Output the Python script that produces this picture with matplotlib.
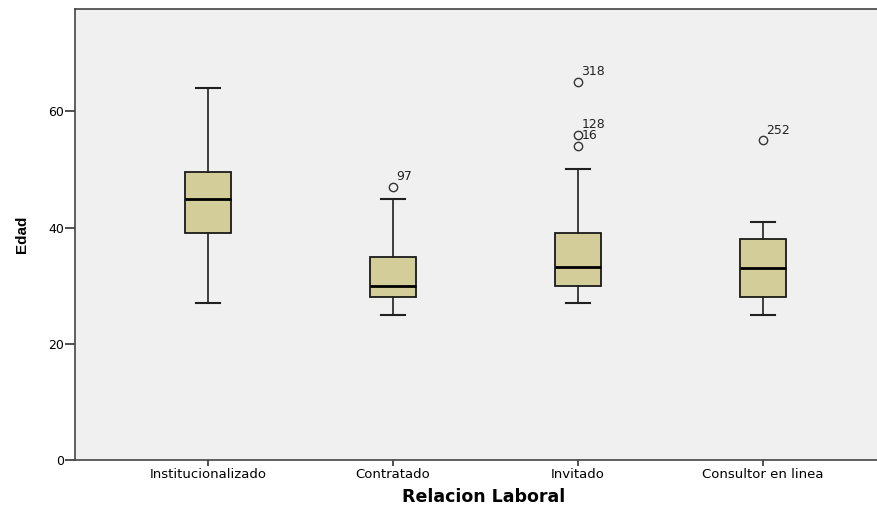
import matplotlib.pyplot as plt

plt.rcParams['font.family'] = ['DejaVu Sans']

categorias = ["Institucionalizado", "Contratado", "Invitado", "Consultor en linea"]
bigote_inf = [27, 25, 27, 25]
q1 = [39, 28, 30, 28]
mediana = [45, 30, 33.2, 33]
q3 = [49.5, 35, 39, 38]
bigote_sup = [64, 45, 50, 41]

# outliers: (categoria index, edad, caso)
atipicos_cat = [1, 2, 2, 2, 3]
atipicos_edad = [47, 65, 56, 54, 55]
atipicos_caso = ["97", "318", "128", "16", "252"]

stats = []
for i in range(len(categorias)):
    fl = [e for c, e in zip(atipicos_cat, atipicos_edad) if c == i]
    stats.append({"whislo": bigote_inf[i], "q1": q1[i], "med": mediana[i],
                  "q3": q3[i], "whishi": bigote_sup[i], "fliers": fl})

fig = plt.figure(figsize=(8.78, 5.08), dpi=100)
# the original plot frame runs a bit past the right edge of the image
ax = fig.add_axes([0.0854, 0.0945, 0.9317, 0.8875])
ax.set_facecolor("#f0f0f0")

pos = list(range(1, len(categorias) + 1))
ax.bxp(stats, positions=pos, widths=0.25, patch_artist=True, showfliers=True,
       capwidths=0.13,
       boxprops=dict(facecolor="#d3ce99", edgecolor="#1a1a1a", linewidth=1.3),
       medianprops=dict(color="black", linewidth=2),
       whiskerprops=dict(color="#202020", linewidth=1.2),
       capprops=dict(color="#202020", linewidth=1.5),
       flierprops=dict(marker="o", markerfacecolor="none", markeredgecolor="#333333",
                       markersize=6, markeredgewidth=1))

for c, e, t in zip(atipicos_cat, atipicos_edad, atipicos_caso):
    ax.annotate(t, (pos[c], e), xytext=(2.5, 5), textcoords="offset points",
                fontsize=9, color="#222222")

ax.set_xlim(0.281, 4.703)
ax.set_ylim(0, 77.6)
ax.set_yticks([0, 20, 40, 60])
ax.set_xticks(pos)
ax.set_xticklabels(categorias)
ax.tick_params(axis="y", length=7, width=1.2, labelsize=9, color="#333333", pad=1)
ax.tick_params(axis="x", length=4, width=1.2, labelsize=9.5, color="#333333", pad=2)

for s in ["left", "bottom", "top"]:
    ax.spines[s].set_color("#444444")
    ax.spines[s].set_linewidth(1.2)
ax.spines["right"].set_visible(False)

ax.set_xlabel("Relacion Laboral", fontsize=12.5, fontweight="bold", labelpad=5)
ax.set_ylabel("Edad", fontsize=11, fontweight="bold", labelpad=14,
              family="Liberation Sans")

fig.savefig("out.png", dpi=100)
